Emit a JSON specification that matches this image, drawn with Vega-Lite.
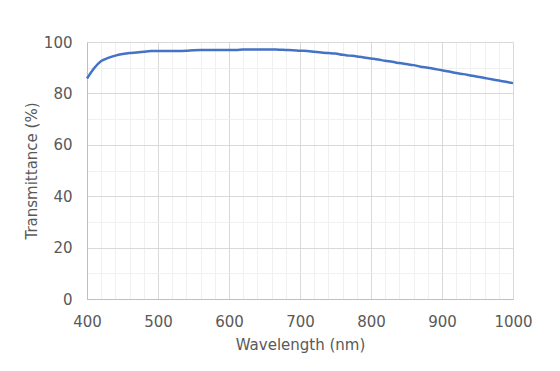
{
  "$schema": "https://vega.github.io/schema/vega-lite/v6.json",
  "width": 426,
  "height": 257,
  "autosize": "none",
  "padding": {"left": 87, "top": 42, "right": 47, "bottom": 72},
  "background": "white",
  "config": {
    "view": {"stroke": null},
    "font": "DejaVu Sans"
  },
  "data": {
    "values": [
      {"wl": 400, "t": 85.8}, {"wl": 410, "t": 89.8}, {"wl": 420, "t": 92.6}, {"wl": 430, "t": 93.8},
      {"wl": 440, "t": 94.7}, {"wl": 450, "t": 95.3}, {"wl": 460, "t": 95.7}, {"wl": 470, "t": 95.9},
      {"wl": 480, "t": 96.2}, {"wl": 490, "t": 96.5}, {"wl": 500, "t": 96.5}, {"wl": 510, "t": 96.5},
      {"wl": 520, "t": 96.5}, {"wl": 530, "t": 96.5}, {"wl": 540, "t": 96.6}, {"wl": 550, "t": 96.8},
      {"wl": 560, "t": 96.9}, {"wl": 570, "t": 96.9}, {"wl": 580, "t": 96.9}, {"wl": 590, "t": 96.9},
      {"wl": 600, "t": 96.9}, {"wl": 610, "t": 96.9}, {"wl": 620, "t": 97.1}, {"wl": 630, "t": 97.1},
      {"wl": 640, "t": 97.1}, {"wl": 650, "t": 97.1}, {"wl": 660, "t": 97.1}, {"wl": 670, "t": 97.0},
      {"wl": 680, "t": 96.9}, {"wl": 690, "t": 96.8}, {"wl": 700, "t": 96.6}, {"wl": 710, "t": 96.5},
      {"wl": 720, "t": 96.2}, {"wl": 730, "t": 95.9}, {"wl": 740, "t": 95.7}, {"wl": 750, "t": 95.5},
      {"wl": 760, "t": 95.0}, {"wl": 770, "t": 94.7}, {"wl": 780, "t": 94.4}, {"wl": 790, "t": 94.0},
      {"wl": 800, "t": 93.6}, {"wl": 810, "t": 93.2}, {"wl": 820, "t": 92.7}, {"wl": 830, "t": 92.3},
      {"wl": 840, "t": 91.8}, {"wl": 850, "t": 91.4}, {"wl": 860, "t": 91.0}, {"wl": 870, "t": 90.4},
      {"wl": 880, "t": 90.0}, {"wl": 890, "t": 89.5}, {"wl": 900, "t": 89.0}, {"wl": 910, "t": 88.5},
      {"wl": 920, "t": 87.9}, {"wl": 930, "t": 87.5}, {"wl": 940, "t": 87.0}, {"wl": 950, "t": 86.5},
      {"wl": 960, "t": 86.0}, {"wl": 970, "t": 85.5}, {"wl": 980, "t": 85.0}, {"wl": 990, "t": 84.5},
      {"wl": 1000, "t": 84.0}
    ]
  },
  "mark": {"type": "line", "color": "#4472c4", "strokeWidth": 2.5, "interpolate": "monotone", "clip": false},
  "encoding": {
    "x": {
      "field": "wl", "type": "quantitative",
      "scale": {"domain": [400, 1000], "nice": false, "zero": false},
      "axis": {
        "title": "Wavelength (nm)",
        "values": [400,420,440,460,480,500,520,540,560,580,600,620,640,660,680,700,720,740,760,780,800,820,840,860,880,900,920,940,960,980,1000],
        "labelExpr": "datum.value % 100 === 0 ? datum.label : ''",
        "format": "d",
        "grid": true,
        "gridColor": {"condition": {"test": "datum.value % 100 === 0", "value": "#d9d9d9"}, "value": "#f0f0f0"},
        "gridWidth": 1,
        "ticks": false,
        "domain": true,
        "domainColor": "#bfbfbf",
        "labelFont": "DejaVu Sans",
        "labelFontSize": 15,
        "labelColor": "#595959",
        "labelPadding": 15,
        "labelFlush": false,
        "labelOverlap": false,
        "titleFont": "DejaVu Sans",
        "titleFontSize": 15,
        "titleFontWeight": "normal",
        "titleColor": "#595959",
        "titleBaseline": "middle",
        "titleX": 213,
        "titleY": 45
      }
    },
    "y": {
      "field": "t", "type": "quantitative",
      "scale": {"domain": [0, 100], "nice": false},
      "axis": {
        "title": "Transmittance (%)",
        "values": [0,10,20,30,40,50,60,70,80,90,100],
        "labelExpr": "datum.value % 20 === 0 ? datum.label : ''",
        "grid": true,
        "gridColor": {"condition": {"test": "datum.value % 20 === 0", "value": "#d9d9d9"}, "value": "#f0f0f0"},
        "ticks": false,
        "domain": true,
        "domainColor": "#bfbfbf",
        "labelFont": "DejaVu Sans",
        "labelFontSize": 15,
        "labelColor": "#595959",
        "labelPadding": 15,
        "labelOverlap": false,
        "titleFont": "DejaVu Sans",
        "titleFontSize": 15,
        "titleFontWeight": "normal",
        "titleColor": "#595959",
        "titleAngle": -90,
        "titleAlign": "center",
        "titleBaseline": "middle",
        "titleX": -56,
        "titleY": 128.5
      }
    }
  }
}
